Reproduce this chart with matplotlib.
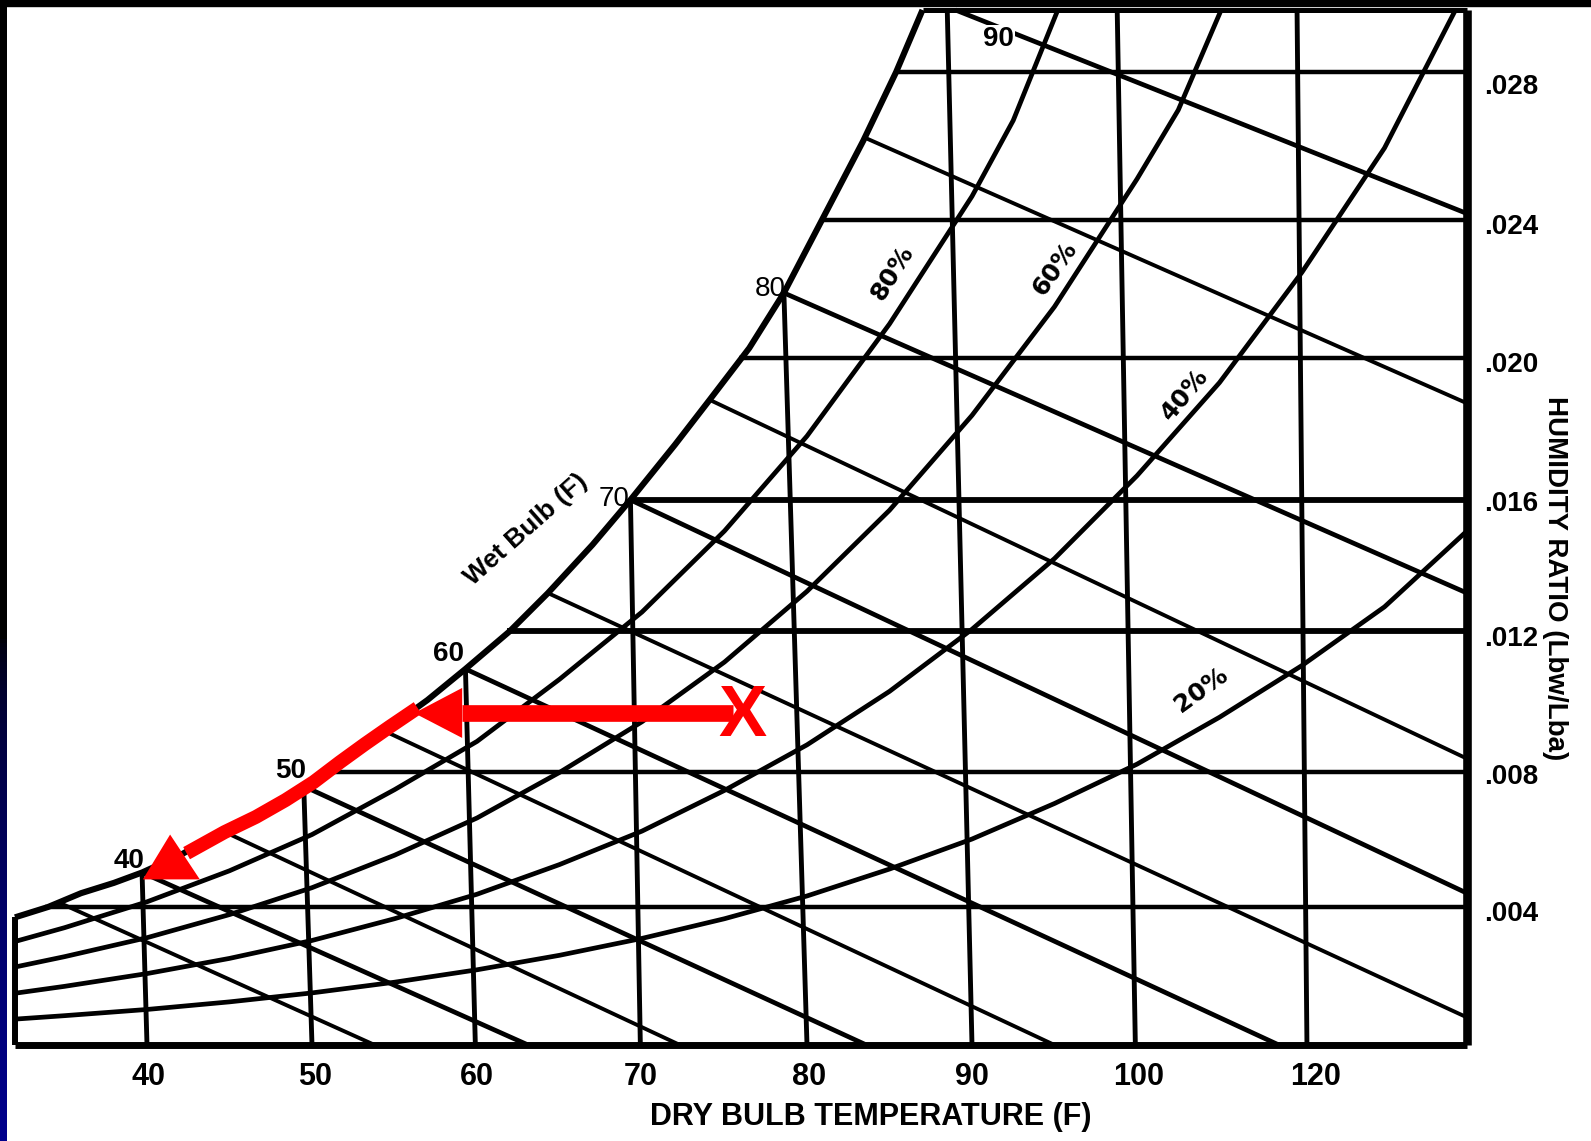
"""Psychrometric chart with a cooling-process arrow (dry bulb vs humidity ratio)."""

import matplotlib

matplotlib.use("Agg")
import matplotlib.pyplot as plt
import numpy as np
from matplotlib.font_manager import fontManager
from matplotlib.patches import Polygon, Rectangle

# chart frame (dry bulb F, humidity ratio lb/lb)
T_MIN, T_MAX = 32.0, 120.0
W_MAX = 0.030

# saturation curve
sat_t = [32.0, 34.0, 36.0, 38.0, 39.7, 42.0, 44.6, 47.0, 49.5, 52.0, 54.4, 57.0, 59.3,
         62.0, 64.3, 67.0, 69.3, 72.0, 74.1, 76.5, 78.6, 81.0, 83.4, 85.4, 87.0]
sat_w = [0.0037, 0.0040, 0.0044, 0.0047, 0.0050, 0.0055, 0.0062, 0.0068, 0.0075, 0.0083,
         0.0091, 0.0100, 0.0109, 0.0120, 0.0131, 0.0145, 0.0158, 0.0174, 0.0187, 0.0202,
         0.0218, 0.0240, 0.0262, 0.0282, 0.0300]

# relative humidity curves
rh80_t = [32, 35, 40, 45, 50, 55, 60, 65, 70, 75, 80, 85, 90, 92.5, 95.2]
rh80_w = [0.0030, 0.0034, 0.00415, 0.00505, 0.0061, 0.0074, 0.0088, 0.0106, 0.01255,
          0.0149, 0.01765, 0.0209, 0.0246, 0.0268, 0.0300]
rh60_t = [32, 35, 40, 45, 50, 55, 60, 65, 70, 75, 80, 85, 90, 95, 100, 102.5, 105.1]
rh60_w = [0.00226, 0.00256, 0.00311, 0.00378, 0.00456, 0.0055, 0.00658, 0.0079, 0.00937,
          0.0111, 0.01315, 0.0155, 0.01825, 0.0214, 0.0251, 0.0271, 0.0300]
rh40_t = [32, 35, 40, 45, 50, 55, 60, 65, 70, 75, 80, 85, 90, 95, 100, 105, 110, 115, 119.3]
rh40_w = [0.0015, 0.0017, 0.00207, 0.00251, 0.00303, 0.00366, 0.00437, 0.00523, 0.0062,
          0.00738, 0.0087, 0.01025, 0.01205, 0.0141, 0.0165, 0.0192, 0.0224, 0.0260, 0.0300]
rh20_t = [32, 35, 40, 45, 50, 55, 60, 65, 70, 75, 80, 85, 90, 95, 100, 105, 110, 115, 120]
rh20_w = [0.00075, 0.00085, 0.00103, 0.00125, 0.00151, 0.00182, 0.00218, 0.0026, 0.00309,
          0.00366, 0.00432, 0.0051, 0.00597, 0.0070, 0.00814, 0.0095, 0.0110, 0.0127, 0.0149]

# wet bulb lines: start on saturation (or top edge), end on bottom / right edge
wb_values = [35, 40, 45, 50, 55, 60, 65, 70, 75, 80, 85, 90]
wb_t0 = [34.8, 39.7, 44.6, 49.5, 54.4, 59.3, 64.3, 69.3, 74.1, 78.6, 83.5, 89.0]
wb_w0 = [0.0041, 0.0050, 0.0062, 0.0075, 0.0091, 0.0109, 0.0131, 0.0158, 0.0187, 0.0218, 0.0263, 0.0300]
wb_t1 = [53.8, 63.1, 72.3, 83.6, 95.0, 108.6, 120, 120, 120, 120, 120, 120]
wb_w1 = [0, 0, 0, 0, 0, 0, 0.0008, 0.0044, 0.0083, 0.0131, 0.0186, 0.0241]

# dry bulb lines (slightly leaning in the picture)
db_values = [40, 50, 60, 70, 80, 90, 100, 110]
db_top_t = [39.7, 49.5, 59.3, 69.3, 78.6, 88.5, 98.8, 109.7]
db_top_w = [0.0050, 0.0075, 0.0109, 0.0158, 0.0218, 0.0300, 0.0300, 0.0300]
db_bot_t = [40.0, 50.0, 59.9, 69.9, 80.0, 90.0, 99.9, 110.3]

# humidity ratio lines
w_lines = [0.0040, 0.0079, 0.0120, 0.0158, 0.0199, 0.0239, 0.0282]
w_line_t0 = [33.8, 50.8, 61.8, 69.3, 75.9, 81.0, 85.4]

# axis labels
xtick_t = [40.1, 50.2, 60.0, 69.9, 80.1, 90.0, 100.1, 110.8]
xtick_labels = ["40", "50", "60", "70", "80", "90", "100", "120"]
ytick_w = [0.00388, 0.00786, 0.01186, 0.01577, 0.0198, 0.0238, 0.02786]
ytick_labels = [".004", ".008", ".012", ".016", ".020", ".024", ".028"]

# wet bulb and RH labels
wb_label_text = ["40", "50", "60", "70", "80", "90"]
wb_label_t = [38.9, 48.7, 58.3, 68.3, 77.8, 91.6]
wb_label_w = [0.00533, 0.00794, 0.01132, 0.01583, 0.02191, 0.02917]
wb_label_bold = [True, True, True, False, False, True]
rh_label_text = ["80%", "60%", "40%", "20%"]
rh_label_t = [85.2, 95.0, 102.9, 103.9]
rh_label_w = [0.02238, 0.02252, 0.01884, 0.01029]
rh_label_rot = [58, 55, 50, 36]

# red process arrows: cooling at constant W, then along saturation
state_t, state_w = 76.06, 0.00951
cool_t = [75.5, 59.1]
cool_w = [0.00962, 0.00962]
cool_head_t = [56.2, 59.1, 59.1]
cool_head_w = [0.00962, 0.01035, 0.00890]
dehum_t = [56.4, 54.7, 53.2, 51.7, 50.1, 48.4, 46.6, 44.7, 42.4]
dehum_w = [0.00977, 0.00922, 0.00872, 0.00820, 0.00762, 0.00710, 0.00661, 0.00617, 0.00556]
dehum_head_t = [39.75, 41.4, 43.2]
dehum_head_w = [0.0048, 0.0061, 0.0048]


def pick_font(*names: str) -> str:
    installed = {f.name for f in fontManager.ttflist}
    for name in names:
        if name in installed:
            return name
    return "DejaVu Sans"


NARROW = pick_font("Liberation Sans Narrow", "Liberation Sans")
SANS = pick_font("Liberation Sans", "DejaVu Sans")

W_PX, H_PX = 1591, 1141
fig = plt.figure(figsize=(W_PX / 100, H_PX / 100), dpi=100)
fig.patch.set_facecolor("white")

# slide background bits: black strip on top, dark blue strip on the left
fig.patches.append(Rectangle((0, 1 - 6 / H_PX), 1, 6 / H_PX, transform=fig.transFigure,
                             color="black", zorder=0))
strip = fig.add_axes([0, 0, 7 / W_PX, 1])
frac = np.linspace(0, 1, 300)[:, None]
blue = np.sqrt(np.clip(1 - frac / 0.44, 0, 1)) * 0.55
strip.imshow(np.dstack([np.zeros_like(blue), np.zeros_like(blue), blue]),
             aspect="auto", origin="lower", extent=[0, 1, 0, 1])
strip.set_axis_off()

ax = fig.add_axes([15 / W_PX, (H_PX - 1045) / H_PX, 1452 / W_PX, 1035 / H_PX])
ax.set_xlim(T_MIN, T_MAX)
ax.set_ylim(0, W_MAX)
for side in ax.spines.values():
    side.set_visible(False)

line_kw = dict(color="black", clip_on=False, solid_capstyle="butt")

# frame
ax.plot([T_MIN, T_MAX], [0, 0], lw=5.0, **line_kw)
ax.plot([T_MAX, T_MAX], [0, W_MAX], lw=6.2, **line_kw)
ax.plot([sat_t[-1], T_MAX], [W_MAX, W_MAX], lw=3.6, **line_kw)
ax.plot([T_MIN, T_MIN], [0, sat_w[0]], lw=4.3, **line_kw)

# saturation and RH curves
ax.plot(sat_t, sat_w, lw=4.4, **line_kw)
for rt, rw in [(rh80_t, rh80_w), (rh60_t, rh60_w), (rh40_t, rh40_w), (rh20_t, rh20_w)]:
    ax.plot(rt, rw, lw=3.4, **line_kw)

# wet bulb lines
for v, t0, w0, t1, w1 in zip(wb_values, wb_t0, wb_w0, wb_t1, wb_w1):
    ax.plot([t0, t1], [w0, w1], lw=3.4 if v % 10 == 0 else 2.8, **line_kw)

# dry bulb lines
for tt, tw, bt in zip(db_top_t, db_top_w, db_bot_t):
    ax.plot([tt, bt], [tw, 0], lw=3.5, **line_kw)

# humidity ratio lines
for w, t0 in zip(w_lines, w_line_t0):
    ax.plot([t0, T_MAX], [w, w], lw=4.2 if w in (0.0120, 0.0158) else 3.2, **line_kw)

# ticks
ax.tick_params(length=0)
ax.set_xticks(xtick_t, labels=xtick_labels, fontsize=22, fontweight="bold", family=NARROW)
ax.tick_params(axis="x", pad=12)
ax.yaxis.tick_right()
ax.set_yticks(ytick_w, labels=ytick_labels, fontsize=20, fontweight="bold", family=SANS)
ax.tick_params(axis="y", pad=12)

ax.set_xlabel("DRY BULB TEMPERATURE (F)", fontsize=22, fontweight="bold", family=NARROW)
ax.xaxis.set_label_coords(0.5895, -0.055)
ax.yaxis.set_label_position("right")
ax.set_ylabel("HUMIDITY RATIO (Lbw/Lba)", fontsize=20, fontweight="bold", family=NARROW,
              rotation=-90, va="center", ha="center")
ax.yaxis.set_label_coords(1.0606, 0.4512)

# wet bulb labels
for txt, t, w, bold in zip(wb_label_text, wb_label_t, wb_label_w, wb_label_bold):
    ax.text(t, w, txt, fontsize=20, family=SANS, fontweight="bold" if bold else "normal",
            ha="center", va="center", zorder=5,
            bbox=dict(facecolor="white", edgecolor="none", pad=0.5) if txt == "90" else None)
ax.text(63.0, 0.01493, "Wet Bulb (F)", fontsize=19, fontweight="bold", family=SANS,
        rotation=41.5, rotation_mode="anchor", ha="center", va="center")

for txt, t, w, rot in zip(rh_label_text, rh_label_t, rh_label_w, rh_label_rot):
    ax.text(t, w, txt, fontsize=18, fontweight="bold", family="DejaVu Sans",
            rotation=rot, rotation_mode="anchor", ha="center", va="center", zorder=5)

# red process path
red = "#ff0000"
ax.plot(cool_t, cool_w, color=red, lw=12, solid_capstyle="butt", zorder=8)
ax.add_patch(Polygon(np.column_stack([cool_head_t, cool_head_w]), closed=True,
                     facecolor=red, edgecolor="none", zorder=8))
ax.plot(dehum_t, dehum_w, color=red, lw=10, solid_capstyle="butt", solid_joinstyle="round", zorder=8)
ax.add_patch(Polygon(np.column_stack([dehum_head_t, dehum_head_w]), closed=True,
                     facecolor=red, edgecolor="none", zorder=8))
ax.text(state_t, state_w, "X", color=red, fontsize=52, fontweight="bold", family=SANS,
        ha="center", va="center", zorder=9)

fig.savefig("out.png", dpi=100, facecolor="white")
